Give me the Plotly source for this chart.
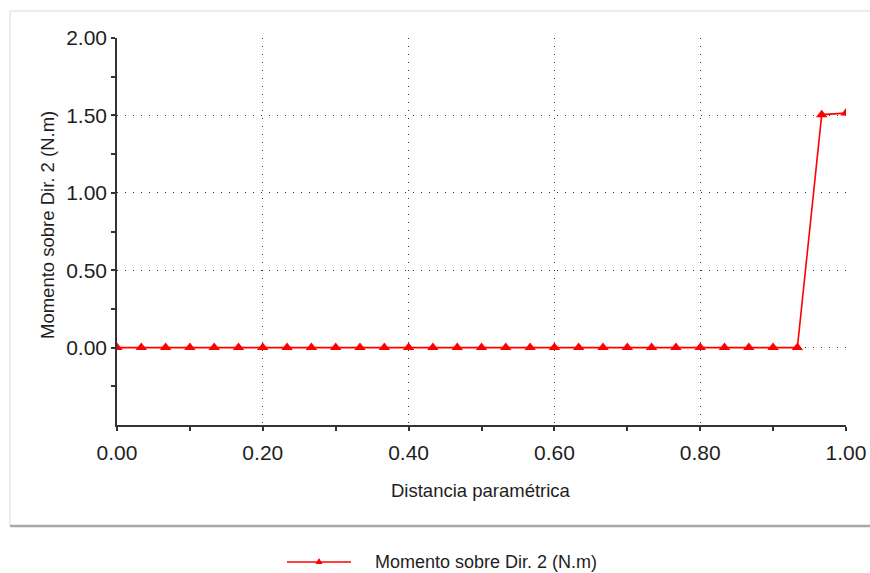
import plotly.graph_objects as go

# Parametric distance along the member and the bending moment about direction 2
distancia = [0.0000, 0.0333, 0.0667, 0.1000, 0.1333, 0.1667, 0.2000, 0.2333,
             0.2667, 0.3000, 0.3333, 0.3667, 0.4000, 0.4333, 0.4667, 0.5000,
             0.5333, 0.5667, 0.6000, 0.6333, 0.6667, 0.7000, 0.7333, 0.7667,
             0.8000, 0.8333, 0.8667, 0.9000, 0.9333, 0.9667, 1.0000]
momento = [0.00, 0.00, 0.00, 0.00, 0.00, 0.00, 0.00, 0.00,
           0.00, 0.00, 0.00, 0.00, 0.00, 0.00, 0.00, 0.00,
           0.00, 0.00, 0.00, 0.00, 0.00, 0.00, 0.00, 0.00,
           0.00, 0.00, 0.00, 0.00, 0.00, 1.505, 1.515]

serie_nombre = "Momento sobre Dir. 2 (N.m)"
x_titulo = "Distancia paramétrica"
x_ticks = [0.0, 0.2, 0.4, 0.6, 0.8, 1.0]
x_tick_text = ["0.00", "0.20", "0.40", "0.60", "0.80", "1.00"]
y_ticks = [0.0, 0.5, 1.0, 1.5, 2.0]
y_tick_text = ["0.00", "0.50", "1.00", "1.50", "2.00"]

W, H = 870, 573
ML, MR, MT, MB = 117, 24, 38, 148
PW, PH = W - ML - MR, H - MT - MB

def px(xpix):
    return (xpix - ML) / PW

def py(ypix):
    return (H - MB - ypix) / PH

FONT = "Liberation Sans, Arial, sans-serif"
RED = "#ff0000"
AXIS = "#333333"
GRID = "#333333"
TEXT = "#1e1e1e"

fig = go.Figure()
fig.add_trace(go.Scatter(
    x=distancia, y=momento, mode="lines+markers", name=serie_nombre,
    line=dict(color=RED, width=1.6),
    marker=dict(symbol="triangle-up", size=10, color=RED),
    showlegend=False,
))

axis_common = dict(
    showline=True, linecolor=AXIS, linewidth=1.5,
    ticks="outside", ticklen=4, tickcolor=AXIS, tickwidth=1.5,
    showgrid=True, gridcolor=GRID, gridwidth=1, griddash="1px,7px",
    zeroline=False,
    tickfont=dict(family=FONT, size=21, color=TEXT),
)

fig.update_xaxes(
    range=[0, 1], tickvals=x_ticks, ticktext=x_tick_text,
    minor=dict(tickvals=[0.1, 0.3, 0.5, 0.7, 0.9], ticks="outside",
               ticklen=4, tickcolor=AXIS, tickwidth=1.5, showgrid=False),
    ticklabelstandoff=4,
    **axis_common,
)
fig.update_yaxes(
    range=[-0.5, 2.0], tickvals=y_ticks, ticktext=y_tick_text,
    minor=dict(tickvals=[-0.25, 0.25, 0.75, 1.25, 1.75], ticks="outside",
               ticklen=4, tickcolor=AXIS, tickwidth=1.5, showgrid=False),
    ticklabelstandoff=0,
    **axis_common,
)

# Panel frame around the chart
shapes = [
    dict(type="line", xref="paper", yref="paper", x0=px(10), x1=px(10),
         y0=py(11), y1=py(526), line=dict(color="#ececec", width=2)),
    dict(type="line", xref="paper", yref="paper", x0=px(10), x1=px(870),
         y0=py(11), y1=py(11), line=dict(color="#ececec", width=2)),
    dict(type="line", xref="paper", yref="paper", x0=px(10), x1=px(870),
         y0=py(526), y1=py(526), line=dict(color="#a8a8a8", width=2.5)),
]

# Legend: sample line with a marker, followed by the series name
ly = 562
shapes.append(dict(type="line", xref="paper", yref="paper",
                   x0=px(287), x1=px(351), y0=py(ly), y1=py(ly),
                   line=dict(color=RED, width=1.5)))
cx = 319
tri = f"M {px(cx - 3.5)} {py(ly + 2)} L {px(cx + 3.5)} {py(ly + 2)} L {px(cx)} {py(ly - 4)} Z"
shapes.append(dict(type="path", xref="paper", yref="paper", path=tri,
                   fillcolor=RED, line=dict(color=RED, width=0)))

annotations = [
    dict(text=serie_nombre, xref="paper", yref="paper", x=px(373), y=py(ly),
         xanchor="left", yanchor="middle", showarrow=False,
         font=dict(family=FONT, size=18, color=TEXT)),
    # axis titles
    dict(text=x_titulo, xref="paper", yref="paper", x=px(481), y=py(490),
         xanchor="center", yanchor="middle", showarrow=False,
         font=dict(family=FONT, size=18.5, color=TEXT)),
    dict(text=serie_nombre, xref="paper", yref="paper", x=px(47), y=py(225),
         xanchor="center", yanchor="middle", showarrow=False, textangle=-90,
         font=dict(family=FONT, size=18.5, color=TEXT)),
]

fig.update_layout(
    width=W, height=H,
    margin=dict(l=ML, r=MR, t=MT, b=MB, autoexpand=False),
    paper_bgcolor="white", plot_bgcolor="white",
    shapes=shapes, annotations=annotations,
)

fig.write_html("out.html")
